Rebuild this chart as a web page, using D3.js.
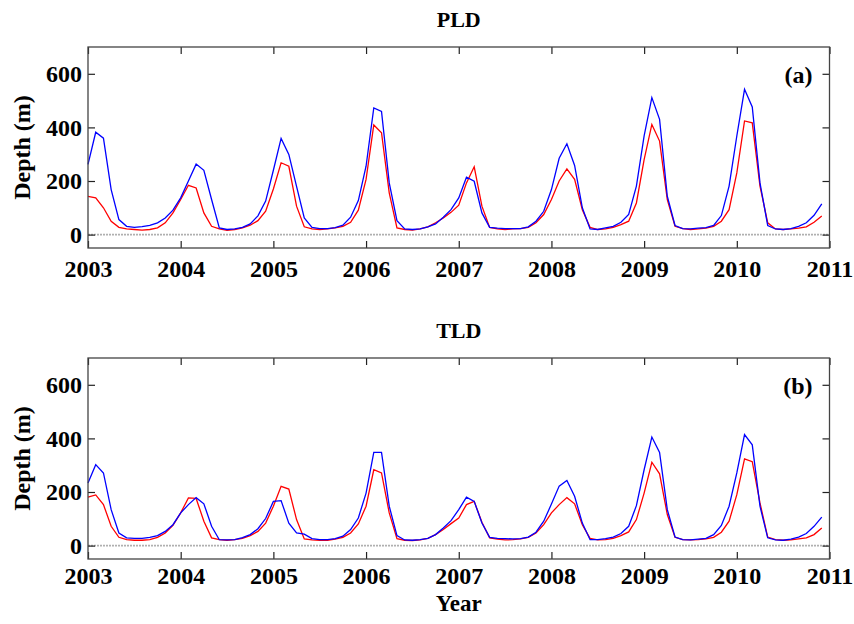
<!DOCTYPE html>
<html lang="en">
<head>
<meta charset="UTF-8">
<title>PLD / TLD depth</title>
<script src="https://d3js.org/d3.v7.min.js"></script>
<style>
  body { margin: 0; background: #fff; }
  svg text { font-family: "Liberation Serif", "Times New Roman", serif; font-weight: bold; fill: #000; }
</style>
</head>
<body>
<div id="chart"></div>
<script>
// monthly values, Jan 2003 .. Dec 2010
const years = [2003, 2004, 2005, 2006, 2007, 2008, 2009, 2010, 2011];
const depthTicks = [0, 200, 400, 600];

const pldBlue = [262, 382, 360, 168, 56, 31, 27, 30, 34, 44, 62, 91,
  137, 200, 263, 240, 131, 25, 19, 21, 27, 40, 70, 125,
  240, 359, 299, 180, 62, 27, 22, 22, 26, 35, 65, 127,
  255, 473, 460, 193, 52, 21, 19, 21, 29, 40, 65, 93,
  137, 214, 199, 81, 27, 24, 22, 22, 22, 29, 50, 87,
  168, 285, 339, 258, 100, 21, 19, 25, 31, 46, 75, 181,
  368, 511, 430, 143, 34, 22, 21, 24, 26, 34, 71, 181,
  368, 542, 476, 193, 34, 21, 19, 22, 31, 44, 72, 115];

const pldRed = [143, 137, 100, 50, 27, 21, 19, 17, 19, 25, 44, 81,
  131, 184, 174, 81, 31, 21, 16, 19, 25, 35, 52, 87,
  170, 268, 255, 106, 29, 21, 19, 21, 25, 31, 46, 91,
  206, 409, 380, 156, 25, 19, 17, 21, 29, 44, 62, 83,
  110, 193, 253, 106, 27, 21, 19, 21, 22, 27, 44, 75,
  131, 200, 245, 206, 93, 27, 19, 21, 27, 37, 50, 118,
  280, 411, 349, 131, 31, 22, 19, 21, 24, 31, 50, 93,
  230, 424, 417, 181, 44, 21, 19, 21, 24, 29, 46, 69];

const tldBlue = [234, 302, 271, 134, 47, 29, 27, 27, 31, 37, 53, 78,
  122, 153, 179, 156, 72, 22, 21, 22, 30, 41, 63, 101,
  165, 168, 84, 47, 43, 26, 22, 22, 26, 35, 60, 103,
  196, 348, 348, 147, 37, 21, 20, 22, 27, 41, 66, 93,
  134, 181, 165, 84, 31, 27, 26, 25, 26, 32, 50, 91,
  155, 222, 243, 184, 84, 22, 22, 26, 32, 45, 72, 149,
  283, 405, 348, 134, 32, 22, 21, 24, 27, 41, 75, 147,
  271, 414, 376, 147, 29, 21, 20, 24, 32, 45, 72, 106];

const tldRed = [181, 189, 153, 72, 31, 22, 20, 20, 22, 31, 47, 76,
  122, 178, 176, 91, 29, 22, 20, 22, 27, 37, 53, 84,
  147, 221, 211, 97, 25, 21, 20, 20, 24, 31, 47, 81,
  147, 283, 271, 122, 26, 20, 19, 21, 27, 41, 60, 82,
  103, 153, 165, 87, 29, 24, 21, 22, 25, 31, 47, 78,
  122, 153, 179, 156, 78, 27, 21, 22, 27, 37, 51, 97,
  196, 311, 268, 116, 31, 22, 21, 22, 25, 31, 50, 91,
  190, 324, 313, 159, 32, 22, 20, 21, 25, 29, 41, 66];

const panels = [
  { title: "PLD", tag: "(a)", blue: pldBlue, red: pldRed, top: 47, pad: 12 },
  { title: "TLD", tag: "(b)", blue: tldBlue, red: tldRed, top: 358, pad: 8 }
];

const W = 854, H = 624;
const left = 88, right = 829.5, ph = 201;

const svg = d3.select("#chart").append("svg")
  .attr("width", W).attr("height", H);

const x = d3.scaleLinear().domain([2003, 2011]).range([left, right]);

panels.forEach(p => {
  const y = d3.scaleLinear().domain([-50, 700]).range([p.top + ph, p.top]);
  const g = svg.append("g");

  // zero line
  g.append("line")
    .attr("x1", x(2003)).attr("x2", x(2011))
    .attr("y1", y(0)).attr("y2", y(0))
    .attr("stroke", "#b0b0b0").attr("stroke-width", 1.6)
    .attr("stroke-dasharray", "2,1");

  const line = d3.line()
    .x((d, i) => x(2003 + i / 12))
    .y(d => y(d));

  g.append("path").datum(p.red)
    .attr("d", line).attr("fill", "none")
    .attr("stroke", "#ff0000").attr("stroke-width", 1.3);
  g.append("path").datum(p.blue)
    .attr("d", line).attr("fill", "none")
    .attr("stroke", "#0000ff").attr("stroke-width", 1.3);

  // axes, ticks pointing in
  g.append("g")
    .attr("transform", `translate(0,${p.top + ph})`)
    .call(d3.axisBottom(x).tickValues(years).tickFormat(d3.format("d"))
      .tickSizeInner(-7).tickSizeOuter(0).tickPadding(p.pad));
  g.append("g")
    .attr("transform", `translate(0,${p.top})`)
    .call(d3.axisTop(x).tickValues(years).tickFormat("")
      .tickSizeInner(-7).tickSizeOuter(0));
  g.append("g")
    .attr("transform", `translate(${left},0)`)
    .call(d3.axisLeft(y).tickValues(depthTicks)
      .tickSizeInner(-7).tickSizeOuter(0).tickPadding(6));
  g.append("g")
    .attr("transform", `translate(${right},0)`)
    .call(d3.axisRight(y).tickValues(depthTicks).tickFormat("")
      .tickSizeInner(-7).tickSizeOuter(0));

  g.selectAll(".domain").remove();
  g.selectAll(".tick line").attr("stroke", "#222").attr("stroke-width", 1.2);
  g.selectAll(".tick text").attr("font-size", 24);

  g.append("rect")
    .attr("x", left).attr("y", p.top)
    .attr("width", right - left).attr("height", ph)
    .attr("fill", "none").attr("stroke", "#444").attr("stroke-width", 1.3);

  g.append("text")
    .attr("x", (left + right) / 2).attr("y", p.top - 20)
    .attr("text-anchor", "middle").attr("font-size", 22)
    .text(p.title);

  g.append("text")
    .attr("x", right - 17).attr("y", p.top + 36)
    .attr("text-anchor", "end").attr("font-size", 24)
    .text(p.tag);

  g.append("text")
    .attr("transform", `translate(30,${p.top + ph / 2}) rotate(-90)`)
    .attr("text-anchor", "middle").attr("font-size", 24)
    .text("Depth (m)");
});

svg.append("text")
  .attr("x", (left + right) / 2).attr("y", 611)
  .attr("text-anchor", "middle").attr("font-size", 23)
  .text("Year");
</script>
</body>
</html>
